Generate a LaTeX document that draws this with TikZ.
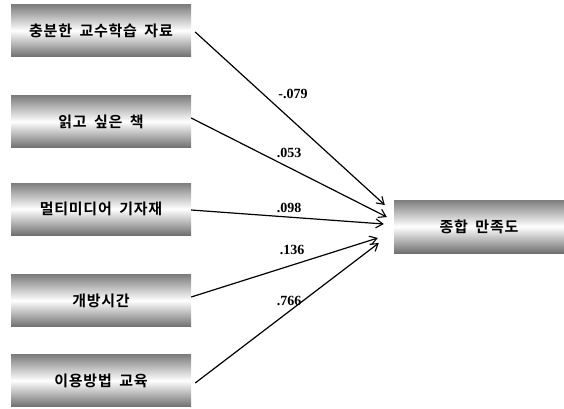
\documentclass[tikz,border=0pt]{standalone}
\usepackage{fontspec}
\setmainfont{Liberation Serif}
\newfontfamily\kfont{Noto Sans CJK KR}[BoldFont={Noto Sans CJK KR Bold}, LetterSpace=5, WordSpace=1.8]
\usetikzlibrary{arrows.meta,calc}
\definecolor{edgegray}{RGB}{125,125,125}
\definecolor{edgegrayb}{RGB}{112,112,112}
\begin{document}
\begin{tikzpicture}[x=1pt,y=-1pt,
  varbox/.style={rectangle, inner sep=0pt, minimum width=180pt, minimum height=52pt,
    top color=edgegray, bottom color=edgegrayb, middle color=white,
    font=\kfont\bfseries\fontsize{15}{17}\selectfont},
  path/.style={line width=1.2pt, -{Straight Barb[length=7pt,width=9pt,line width=1.1pt]}},
  coef/.style={font=\bfseries\fontsize{14}{16}\selectfont, inner sep=0pt}]
\useasboundingbox (0,0) rectangle (564,408);
\node[varbox] (b1) at (101,30.5) {충분한 교수학습 자료};
\node[varbox] (b2) at (101,121.5) {읽고 싶은 책};
\node[varbox] (b3) at (101,209) {멀티미디어 기자재};
\node[varbox] (b4) at (101,300.5) {개방시간};
\node[varbox] (b5) at (101,380.5) {이용방법 교육};
\node[varbox, minimum width=170pt, minimum height=53pt] (t) at (479,226.5) {종합 만족도};
\draw[path] ($(b1.east)+(4,1.5)$) -- ($(t.west)+(-9,-21.5)$);
\draw[path] ($(b2.east)+(0,-3.5)$) -- ($(t.west)+(-7,-9.5)$);
\draw[path] ($(b3.east)+(0,1)$) -- ($(t.west)+(-10,-2.5)$);
\draw[path] ($(b4.east)+(0,-3.5)$) -- ($(t.west)+(-16,11.5)$);
\draw[path] ($(b5.east)+(4,2.5)$) -- ($(t.west)+(-15,16.5)$);
\node[coef] (c1) at (293,94) {-.079};
\node[coef] (c2) at (289,153) {.053};
\node[coef] (c3) at (289,208) {.098};
\node[coef] (c4) at (292,250) {.136};
\node[coef] (c5) at (289,301) {.766};
\end{tikzpicture}
\end{document}
